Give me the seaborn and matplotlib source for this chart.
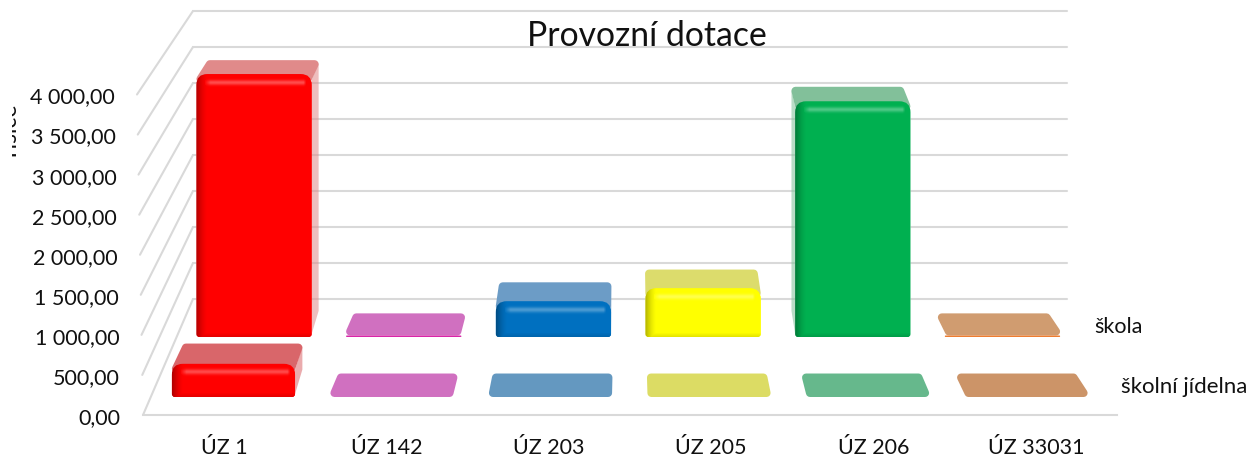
import matplotlib
matplotlib.use('Agg')
import matplotlib.pyplot as plt
from matplotlib.patches import Polygon, PathPatch
from matplotlib.path import Path
from matplotlib.lines import Line2D
from matplotlib.transforms import ScaledTranslation
import numpy as np
import seaborn as sb

categories = ['ÚZ 1', 'ÚZ 142', 'ÚZ 203', 'ÚZ 205', 'ÚZ 206', 'ÚZ 33031']
skola = [3525, 20, 480, 655, 3160, 20]
skolni_jidelna = [420, 0, 0, 0, 0, 0]
y_ticks = [0, 500, 1000, 1500, 2000, 2500, 3000, 3500, 4000]
y_labels = ['0,00', '500,00', '1 000,00', '1 500,00', '2 000,00',
            '2 500,00', '3 000,00', '3 500,00', '4 000,00']
colors = ['#ff0000', '#d826a8', '#0070c0', '#ffff00', '#00b050', '#ed7d31']
back_tops = ['#e08a8a', '#d070c0', '#6c9cc6', '#dcdc6c', '#82c09a', '#d09c70']
front_tops = ['#d9666a', '#d070c0', '#6498c0', '#dcdc64', '#66b88c', '#cc9468']

W, H = 1249, 456
VP = (628, -715)   # vanishing point of the 3D look
DEPTH = 0.978
sb.set_style('white')
plt.rcParams['font.family'] = ['Lato', 'DejaVu Sans']
fig = plt.figure(figsize=(W / 100, H / 100), dpi=100)


def px_axes(left, right, top, bottom, z):
    a = fig.add_axes([left / W, 1 - bottom / H, (right - left) / W, (bottom - top) / H], zorder=z)
    a.patch.set_alpha(0)
    return a


def row_axes(left, right, base, px_per_500, z):
    a = px_axes(left, right, base - 8 * px_per_500, base, z)
    a.set_ylim(0, 4000)
    return a


# front plane, carries the ticks and labels
ax = px_axes(143, 1117, 95.5, 416, 1)
ax.set_xlim(-0.5, 5.5)
ax.set_ylim(0, 4000)
ax.set_xticks(range(6))
ax.set_xticklabels(categories, fontsize=15.5, color='#111111')
ax.set_yticks(y_ticks)
ax.set_yticklabels(y_labels, fontsize=15.5, color='#111111')
ax.tick_params(axis='y', length=0, pad=16)
ax.tick_params(axis='x', length=0, pad=16)
for s in ['top', 'right', 'left']:
    ax.spines[s].set_visible(False)
ax.spines['bottom'].set_color('#d9d9d9')
ax.spines['bottom'].set_linewidth(1.5)
for v, lab in zip(y_ticks, ax.get_yticklabels()):
    lab.set_transform(lab.get_transform() + ScaledTranslation(-6 * v / 4000 / 100, 0, fig.dpi_scale_trans))

# back wall
wall = px_axes(193, 1067, 12, 300, 1)
wall.set_xlim(-0.5, 5.5)
wall.set_ylim(0, 4000)
wall.set_xticks([])
wall.set_yticks(y_ticks)
wall.set_yticklabels([])
wall.tick_params(length=0)
wall.grid(True, axis='y', color='#d9d9d9', lw=1.5, clip_on=False)
sb.despine(ax=wall, left=True, bottom=True)

# bars
ax_back = row_axes(179.2, 1077.3, 338, 37.3, 2)
ax_front = row_axes(154.2, 1105.3, 398, 39.5, 3)
sb.barplot(x=categories, y=skola, hue=categories, palette=colors, legend=False,
           width=0.77, saturation=1, ax=ax_back)
sb.barplot(x=categories, y=skolni_jidelna, hue=categories, palette=colors, legend=False,
           width=0.777, saturation=1, ax=ax_front)
for a in [ax_back, ax_front]:
    a.set_xlim(-0.5, 5.5)
    a.set_ylim(0, 4000)
    a.axis('off')

# overlay in pixels for the bar tops and the bevel
ov = fig.add_axes([0, 0, 1, 1], zorder=5)
ov.patch.set_alpha(0)
ov.axis('off')
ov.set_xlim(0, W)
ov.set_ylim(H, 0)


def to_px(a, x, y):
    p = a.transData.transform((x, y))
    return p[0], H - p[1]


def away(x, y):
    return VP[0] + DEPTH * (x - VP[0]), VP[1] + DEPTH * (y - VP[1])


def bar_outline(x0, x1, top, base, rt, rb):
    verts = [(x0, base - rb), (x0, top + rt), (x0, top), (x0 + rt, top), (x1 - rt, top), (x1, top),
             (x1, top + rt), (x1, base - rb), (x1, base), (x1 - rb, base), (x0 + rb, base), (x0, base),
             (x0, base - rb)]
    codes = [Path.MOVETO, Path.LINETO, Path.CURVE3, Path.CURVE3, Path.LINETO, Path.CURVE3, Path.CURVE3,
             Path.LINETO, Path.CURVE3, Path.CURVE3, Path.LINETO, Path.CURVE3, Path.CURVE3]
    return Path(verts, codes)


def shading(w, h):
    img = np.zeros((h, w, 4))
    xx = np.arange(w)
    yy = np.arange(h)
    dark = np.clip(1 - xx / 11, 0, 1) ** 1.5 * 0.3
    img[:, :, 3] = np.maximum(img[:, :, 3], dark[None, :])
    bot = np.clip(1 - (h - 1 - yy) / 4, 0, 1) * 0.1
    img[:, :, 3] = np.maximum(img[:, :, 3], bot[:, None])
    # highlight just under the top edge
    light = np.exp(-((yy - 8) / 2.5) ** 2) * 0.3
    mask = np.clip((xx - 8) / 6, 0, 1) * np.clip((w - 6 - xx) / 3, 0, 1)
    hl = light[:, None] * mask[None, :]
    img[:, :, :3] = (hl > img[:, :, 3])[:, :, None] * 1.0
    img[:, :, 3] = np.maximum(img[:, :, 3], hl)
    return img


def dress_row(a, tops, rt):
    R = 4
    for bar, col, tc in zip(a.patches, colors, tops):
        x0, x1 = to_px(a, bar.get_x(), 0)[0], to_px(a, bar.get_x() + bar.get_width(), 0)[0]
        base = to_px(a, 0, 0)[1]
        top = to_px(a, 0, bar.get_height())[1]
        h = base - top
        # side face on the side turned to the vanishing point
        xs = x1 if (x0 + x1) / 2 < VP[0] else x0
        if h > 8:
            side = [(xs, top + 6), away(xs, top + 6), away(xs, base - 3), (xs, base - 3)]
            ov.add_patch(Polygon(side, fc=tc, ec='none', alpha=0.55, zorder=1))
        # top face, the thick round stroke gives the soft corners
        yf = top + 5 if h > 4 else top - R
        yb = away(x0, top)[1] + R + (3.5 if h > 4 else 1)
        q = [(x0 + R, yf), (away(x0, top)[0] + R, yb), (away(x1, top)[0] - R, yb), (x1 - R, yf)]
        ov.add_patch(Polygon(q, fc=tc, ec=tc, lw=R * 2 * 0.72, joinstyle='round', zorder=2))
        if h <= 0:
            continue
        # rounded front face: clip the seaborn bar and put the bevel on it
        r = min(rt, h * 0.45)
        rb = min(3, h * 0.45)
        outline = PathPatch(bar_outline(x0, x1, top, base, r, rb), fc=col, ec='none', zorder=3)
        ov.add_patch(outline)
        bar.set_clip_path(outline)
        if h > 6:
            im = ov.imshow(shading(int(x1 - x0), int(h)), extent=(x0, x1, base, top),
                           aspect='auto', interpolation='bilinear', zorder=4)
            im.set_clip_path(outline)


dress_row(ax_back, back_tops, 11)
dress_row(ax_front, front_tops, 11)
ov.set_xlim(0, W)
ov.set_ylim(H, 0)

# slanted wall lines, drawn under the bars
for v in y_ticks:
    x_f, y_f = to_px(ax, -0.5, v)
    x_b, y_b = to_px(wall, -0.5, v)
    fig.add_artist(Line2D([(x_f - 6 * v / 4000) / W, x_b / W], [1 - y_f / H, 1 - y_b / H],
                          color='#d9d9d9', lw=1.5, zorder=0))

fig.text(647 / W, 1 - 36 / H, 'Provozní dotace', fontsize=24.3, color='#111111', ha='center', va='center')
fig.text(1094 / W, 1 - 327 / H, 'škola', fontsize=15.5, color='#111111', ha='left', va='center')
fig.text(1121 / W, 1 - 387 / H, 'školní jídelna', fontsize=16, color='#111111', ha='left', va='center')

# axis title is cut off in the original, only the right part of the glyphs shows
t = fig.text(10 / W, 1 - 132 / H, 'Tisíce', fontsize=16.5, rotation=90, color='#111111', ha='center', va='center')
t.set_clip_path(plt.Rectangle((12 / W, 1 - 160 / H), 12 / W, 56 / H, transform=fig.transFigure))
t.set_clip_on(True)

fig.savefig('out.png', dpi=100)
